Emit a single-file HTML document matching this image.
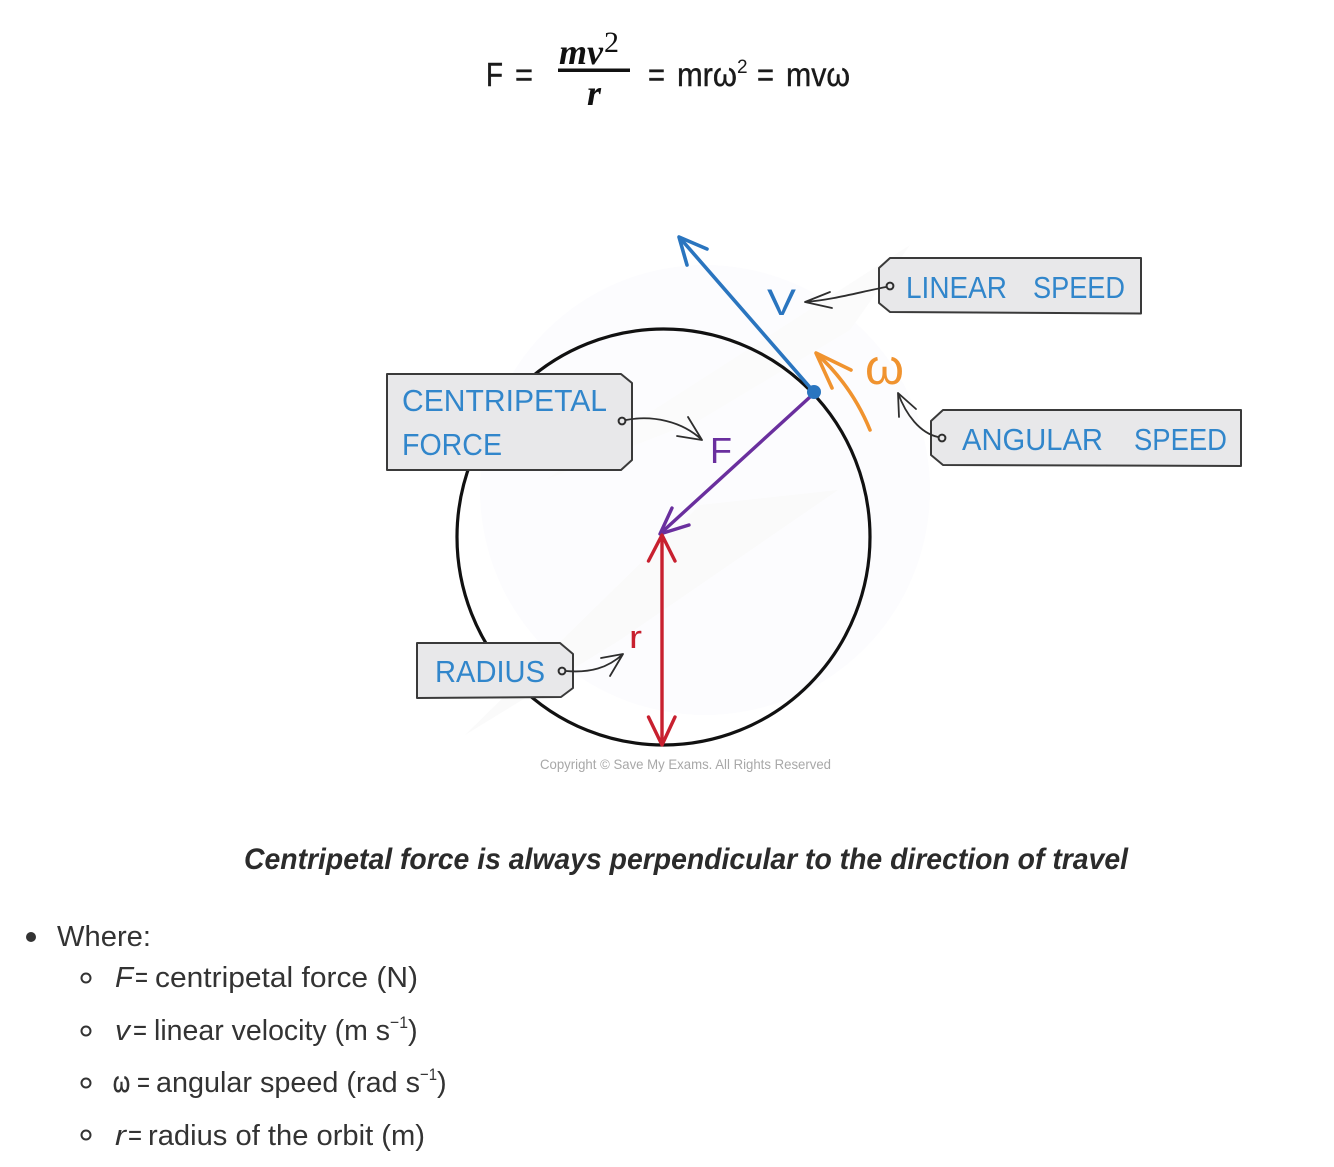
<!DOCTYPE html>
<html><head><meta charset="utf-8"><style>
html,body{margin:0;padding:0;background:#fff}
svg{display:block}
text{font-family:"Liberation Sans",sans-serif}
.s{font-family:"Liberation Serif",serif;font-style:italic;font-weight:bold;fill:#111}
.eq{font-size:33px;fill:#1a1a1a;stroke:#1a1a1a;stroke-width:.4}
.tag{fill:#e8e8ea;stroke:#3a3a3a;stroke-width:2;stroke-linejoin:round}
.lab{font-size:31px;fill:#3186cb}
.bk{fill:none;stroke:#2e2e2e;stroke-width:1.8;stroke-linecap:round;stroke-linejoin:round}
.hole{fill:none;stroke:#2e2e2e;stroke-width:2}
.li{font-size:29px;fill:#333}
.it{font-style:italic}
.sup{font-size:17px;fill:#333}
.ring{fill:none;stroke:#333;stroke-width:2}
</style></head><body>
<svg width="1334" height="1167" viewBox="0 0 1334 1167" xmlns="http://www.w3.org/2000/svg">
<rect width="1334" height="1167" fill="#fff"/>

<!-- formula -->
<text class="eq" x="486" y="86" textLength="17" lengthAdjust="spacingAndGlyphs">F</text>
<text class="eq" x="515" y="86" textLength="18" lengthAdjust="spacingAndGlyphs">=</text>
<text class="s" x="559" y="64" font-size="36" textLength="44" lengthAdjust="spacingAndGlyphs">mv</text>
<text x="604" y="52" font-size="30" style="font-family:'Liberation Serif',serif" fill="#111">2</text>
<rect x="558" y="68.500" width="72" height="3.500" fill="#111"/>
<text class="s" x="587" y="105" font-size="36">r</text>
<text class="eq" x="648" y="86" textLength="17" lengthAdjust="spacingAndGlyphs">=</text>
<text class="eq" x="677" y="86" textLength="60" lengthAdjust="spacingAndGlyphs">mrω</text>
<text x="737" y="73" font-size="19" fill="#1a1a1a">2</text>
<text class="eq" x="757" y="86" textLength="17" lengthAdjust="spacingAndGlyphs">=</text>
<text class="eq" x="786" y="86" textLength="64" lengthAdjust="spacingAndGlyphs">mvω</text>

<!-- watermark -->
<circle cx="705" cy="490" r="225" fill="#fcfcfe"/>
<polygon points="465,735 700,505 838,490 620,640" fill="#fafafa"/>
<polygon points="545,480 910,245 850,330 700,420" fill="#fbfbfb"/>

<!-- circle -->
<ellipse cx="663.500" cy="537" rx="206.500" ry="208" fill="none" stroke="#111" stroke-width="3.200"/>

<!-- velocity -->
<g fill="none" stroke="#2a75bf" stroke-width="3.600" stroke-linecap="round" stroke-linejoin="round">
<path d="M814 392L680 238"/>
<path d="M707 249L679 237L687 265"/>
</g>
<text x="767" y="315" font-size="37" fill="#2a75bf" textLength="29" lengthAdjust="spacingAndGlyphs">V</text>

<!-- force -->
<g fill="none" stroke="#6a2f9e" stroke-width="3.400" stroke-linecap="round" stroke-linejoin="round">
<path d="M810 397L661 533"/>
<path d="M672 508L660 534L689 525"/>
</g>
<text x="710" y="463" font-size="36" fill="#6a2f9e">F</text>
<circle cx="814" cy="392" r="7" fill="#2a75bf"/>

<!-- radius -->
<g fill="none" stroke="#c8202f" stroke-width="3.400" stroke-linecap="round" stroke-linejoin="round">
<path d="M662 537V744"/>
<path d="M648.500 561L662 535L675 561"/>
<path d="M648.500 717L662 745L675 717"/>
</g>
<text x="629" y="648" font-size="32" fill="#c8202f" textLength="13" lengthAdjust="spacingAndGlyphs">r</text>

<!-- angular -->
<g fill="none" stroke="#f0932f" stroke-width="3.600" stroke-linecap="round" stroke-linejoin="round">
<path d="M870 430Q852 386 817 354"/>
<path d="M851 370L816 353L832 388"/>
</g>
<text x="865" y="384" font-size="50" fill="#f0932f" textLength="39" lengthAdjust="spacingAndGlyphs">ω</text>

<!-- tags -->
<path class="tag" d="M387 374H621L632 383V460L621 470H387Z"/>
<text class="lab" x="402" y="411" textLength="205" lengthAdjust="spacingAndGlyphs">CENTRIPETAL</text>
<text class="lab" x="402" y="455" textLength="100" lengthAdjust="spacingAndGlyphs">FORCE</text>
<circle class="hole" cx="622" cy="421" r="3.400"/>
<path class="bk" d="M626 420C652 415 682 421 702 440M688 417L702 440L677 436"/>

<path class="tag" d="M890 258H1141V313.500L890 312L879 303V268Z"/>
<text class="lab" x="906" y="298" textLength="101" lengthAdjust="spacingAndGlyphs">LINEAR</text>
<text class="lab" x="1033" y="298" textLength="92" lengthAdjust="spacingAndGlyphs">SPEED</text>
<circle class="hole" cx="890" cy="286" r="3.400"/>
<path class="bk" d="M886 287C860 292 832 300 805 302M830 292L805 302L832 308"/>

<path class="tag" d="M943 410H1241V466L943 465L931 455V421Z"/>
<text class="lab" x="962" y="450" textLength="141" lengthAdjust="spacingAndGlyphs">ANGULAR</text>
<text class="lab" x="1134" y="450" textLength="93" lengthAdjust="spacingAndGlyphs">SPEED</text>
<circle class="hole" cx="942" cy="438" r="3.400"/>
<path class="bk" d="M938 437C920 433 906 415 898 393M916 409L898 393L899 417"/>

<path class="tag" d="M417 643H560L573 654V688L561 697L417 698Z"/>
<text class="lab" x="435" y="682" textLength="110" lengthAdjust="spacingAndGlyphs">RADIUS</text>
<circle class="hole" cx="562" cy="671" r="3.400"/>
<path class="bk" d="M566 671C590 673 608 668 623 654M601 658L623 654L610 676"/>

<text x="540" y="769" font-size="14" fill="#a8a8a8" textLength="291" lengthAdjust="spacingAndGlyphs">Copyright © Save My Exams. All Rights Reserved</text>

<!-- caption -->
<text x="244" y="869" font-size="30" font-weight="bold" font-style="italic" fill="#2b2b2b" textLength="884" lengthAdjust="spacingAndGlyphs">Centripetal force is always perpendicular to the direction of travel</text>

<!-- list -->
<circle cx="31" cy="937" r="5" fill="#333"/>
<text class="li" x="57" y="946" textLength="94" lengthAdjust="spacingAndGlyphs">Where:</text>

<circle class="ring" cx="86" cy="978" r="4.500"/>
<text class="li it" x="115" y="987" textLength="18" lengthAdjust="spacingAndGlyphs">F</text>
<text class="li" x="135" y="987" textLength="13" lengthAdjust="spacingAndGlyphs">=</text>
<text class="li" x="155" y="987" textLength="263" lengthAdjust="spacingAndGlyphs">centripetal force (N)</text>

<circle class="ring" cx="86" cy="1031" r="4.500"/>
<text class="li it" x="115" y="1040" textLength="15" lengthAdjust="spacingAndGlyphs">v</text>
<text class="li" x="133" y="1040" textLength="14" lengthAdjust="spacingAndGlyphs">=</text>
<text class="li" x="154" y="1040" textLength="236" lengthAdjust="spacingAndGlyphs">linear velocity (m s</text>
<text class="sup" x="390" y="1028" textLength="18" lengthAdjust="spacingAndGlyphs">−1</text>
<text class="li" x="408" y="1040">)</text>

<circle class="ring" cx="86" cy="1083" r="4.500"/>
<text class="li" x="113" y="1092" textLength="17" lengthAdjust="spacingAndGlyphs" style="stroke:#333;stroke-width:.6">ω</text>
<text class="li" x="137" y="1092" textLength="13" lengthAdjust="spacingAndGlyphs">=</text>
<text class="li" x="156" y="1092" textLength="264" lengthAdjust="spacingAndGlyphs">angular speed (rad s</text>
<text class="sup" x="420" y="1080" textLength="17" lengthAdjust="spacingAndGlyphs">−1</text>
<text class="li" x="437" y="1092">)</text>

<circle class="ring" cx="86" cy="1135" r="4.500"/>
<text class="li it" x="115" y="1145" textLength="11" lengthAdjust="spacingAndGlyphs">r</text>
<text class="li" x="128" y="1145" textLength="14" lengthAdjust="spacingAndGlyphs">=</text>
<text class="li" x="148" y="1145" textLength="277" lengthAdjust="spacingAndGlyphs">radius of the orbit (m)</text>
</svg>
</body></html>
